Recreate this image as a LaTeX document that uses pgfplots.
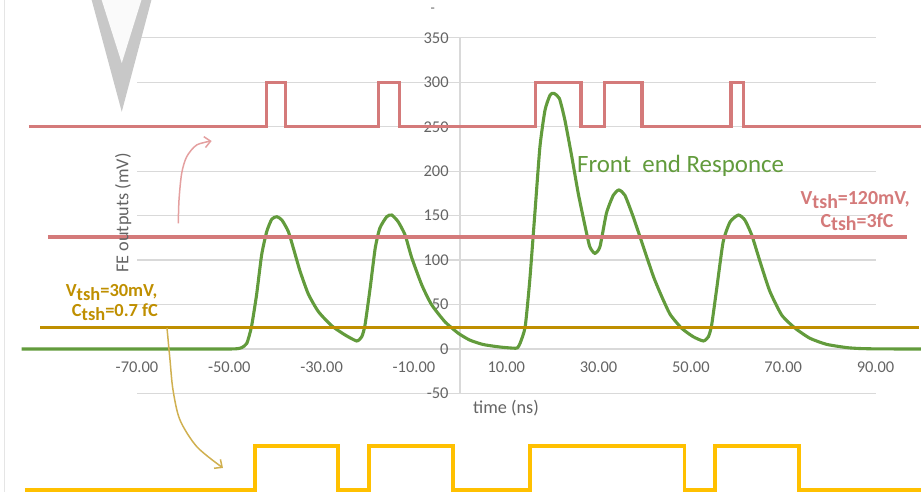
\documentclass[border=0pt]{standalone}
\usepackage{fontspec}
\setmainfont{Carlito}
\usepackage{pgfplots}
\pgfplotsset{compat=1.18}
\usetikzlibrary{arrows.meta}
\definecolor{gridc}{RGB}{217,217,217}
\definecolor{txtc}{RGB}{100,100,100}
\definecolor{greenc}{RGB}{98,155,60}
\definecolor{redc}{RGB}{212,122,122}
\definecolor{goldc}{RGB}{191,143,0}
\definecolor{yellowc}{RGB}{255,192,0}
\definecolor{pinkarr}{RGB}{228,160,160}
\definecolor{goldarr}{RGB}{208,176,80}
\definecolor{vgray}{RGB}{200,200,200}
\newcommand\tsh{\raisebox{-0.17em}{tsh}}
\begin{document}
\begin{tikzpicture}
\path[use as bounding box] (0,0) rectangle (921bp,492bp);
\clip (0,0) rectangle (921bp,492bp);
\begin{axis}[
  at={(137bp,98.6bp)}, anchor=south west,
  scale only axis, width=738.5bp, height=355.5bp,
  xmin=-70, xmax=90, ymin=-50, ymax=350,
  enlargelimits=false, clip=false,
  axis x line=center, axis y line=center,
  axis line style={draw=gridc, line width=1.2bp, -},
  xtick={-70,-50,...,90},
  xticklabels={-70.00,-50.00,-30.00,-10.00,10.00,30.00,50.00,70.00,90.00},
  ytick={-50,0,...,350},
  yticklabels={-50,0,50,100,150,200,250,300,350},
  major tick length=0pt,
  ymajorgrids, grid style={draw=gridc, line width=1.2bp},
  tick label style={font=\fontsize{16.5}{19}\selectfont, text=txtc},
  xticklabel style={yshift=-9bp},
  yticklabel style={xshift=-8bp},
  hide obscured x ticks=false, hide obscured y ticks=false,
]
% faint slide edge
\addplot[gray!20, line width=0.8bp] coordinates {(-98.8,-170) (-98.8,400)};
% V shape
\addplot[fill=vgray, draw=none] coordinates {(-80.2,400) (-66.5,400) (-73.3,266.9)};
\addplot[fill=white!96!gray, draw=none] coordinates {(-78.1,400) (-68.6,400) (-73.3,321.7)};
% top red digital output
\addplot[redc, line width=3.1bp] coordinates {(-93.4,250) (-41.9,250) (-41.9,300) (-37.8,300) (-37.8,250) (-17.7,250) (-17.7,300) (-13.2,300) (-13.2,250) (16.4,250) (16.4,300) (26.2,300) (26.2,250) (31.2,250) (31.2,300) (39.4,300) (39.4,250) (58.7,250) (58.7,300) (61.4,300) (61.4,250) (100,250)};
% front end response
\addplot[greenc, line width=3.1bp, smooth, tension=0.35] coordinates {
(-95,0) (-85,0) (-75,0) (-65,0) (-57,0) (-52,0) (-49.5,0) (-48.3,0.3) (-47.3,1.5) (-46.2,6.4) (-45.2,25) (-44.1,60.7) (-43.0,105.7) (-41.9,132) (-40.8,146) (-39.7,148.8) (-38.6,145) (-37.2,132) (-36.1,113) (-34.7,88) (-32.9,62) (-30.7,42) (-27.8,26) (-24.9,15.7) (-22.4,9) (-21.3,13.8) (-20.6,27) (-19.5,68) (-18.4,113) (-17.4,135.8) (-15.9,148.8) (-14.8,150.7) (-13.4,143) (-11.9,128) (-10.5,103) (-8.3,72) (-6.2,50) (-3.3,30.7) (-0.4,17.7) (2.1,10) (5,5) (8.6,2.2) (11.5,0.9) (12.4,1.2) (13.0,6.4) (14.1,25) (15.1,77.6) (16.2,152.6) (17.3,227.6) (18.4,268.8) (19.5,285.7) (20.3,287.6) (21.5,282) (22.7,257.6) (24.2,216.3) (25.6,175) (27.1,137.6) (28.1,115) (29.2,107.6) (30.3,115) (31.7,152.6) (33.2,173) (34.4,178.9) (35.7,173) (37.5,148.8) (39.7,115) (41.9,81.3) (43.6,60) (45.5,39) (48.0,23.3) (50.5,13.8) (52.7,9) (53.8,13.8) (54.5,27) (55.6,68) (57.0,120.7) (58.5,143) (60.3,150.7) (61.7,145) (63.2,128) (65.0,98) (67.1,65) (69.7,38) (72.6,23.3) (75.8,12) (79.4,5.2) (83.8,1.5) (86.6,0.5) (90,0.1) (95,0) (100,0)};
% thresholds
\addplot[redc, line width=3.2bp] coordinates {(-89.3,126) (96.8,126)};
\addplot[goldc, line width=3.2bp] coordinates {(-91,24.4) (99.4,24.4)};
% bottom yellow digital output
\addplot[yellowc, line width=3.8bp] coordinates {(-94.3,-158.6) (-44.4,-158.6) (-44.4,-109.1) (-26.5,-109.1) (-26.5,-158.6) (-19.7,-158.6) (-19.7,-109.1) (-1.5,-109.1) (-1.5,-158.6) (15.1,-158.6) (15.1,-109.1) (48.6,-109.1) (48.6,-158.6) (55.2,-158.6) (55.2,-109.1) (73.4,-109.1) (73.4,-158.6) (100,-158.6)};
% arrows
\addplot[pinkarr, line width=1.5bp, smooth, -{Straight Barb[length=6bp,width=11bp]}] coordinates {(-61.05,141.4) (-60.9,167.6) (-60.32,197.6) (-59.23,216.3) (-57.07,229.5) (-53.82,234.0)};
\addplot[goldarr, line width=1.5bp, smooth, -{Straight Barb[length=6bp,width=11bp]}] coordinates {(-63.5,23.6) (-62.85,-12.4) (-62.2,-46.1) (-60.69,-79.9) (-57.0,-110.2) (-51.37,-133.9)};
% texts
\node[anchor=base west, text=greenc, font=\fontsize{25}{30}\selectfont, inner sep=0pt] at (axis cs:25.3,198) {Front\ \ end Responce};
\node[anchor=base, text=redc, font=\fontsize{20}{24}\selectfont\bfseries, inner sep=0pt] at (axis cs:85.6,162) {V\tsh=120mV,};
\node[anchor=base, text=redc, font=\fontsize{20}{24}\selectfont\bfseries, inner sep=0pt] at (axis cs:86.0,137.2) {C\tsh=3fC};
\node[anchor=base, text=goldc, font=\fontsize{18.5}{22}\selectfont\bfseries, inner sep=0pt] at (axis cs:-75.5,58.5) {V\tsh=30mV,};
\node[anchor=base, text=goldc, font=\fontsize{18.5}{22}\selectfont\bfseries, inner sep=0pt] at (axis cs:-74.8,36) {C\tsh=0.7 fC};
\node[rotate=90, text=txtc, font=\fontsize{18.3}{22}\selectfont, inner sep=0pt] at (axis cs:-73.0,153) {FE outputs (mV)};
\node[anchor=base west, text=txtc, font=\fontsize{18.3}{22}\selectfont, inner sep=0pt] at (axis cs:2.8,-73.1) {time (ns)};
\node[text=txtc, font=\fontsize{14}{16}\selectfont, inner sep=1pt] at (axis cs:-5.9,381) {-};
\end{axis}
\end{tikzpicture}
\end{document}
